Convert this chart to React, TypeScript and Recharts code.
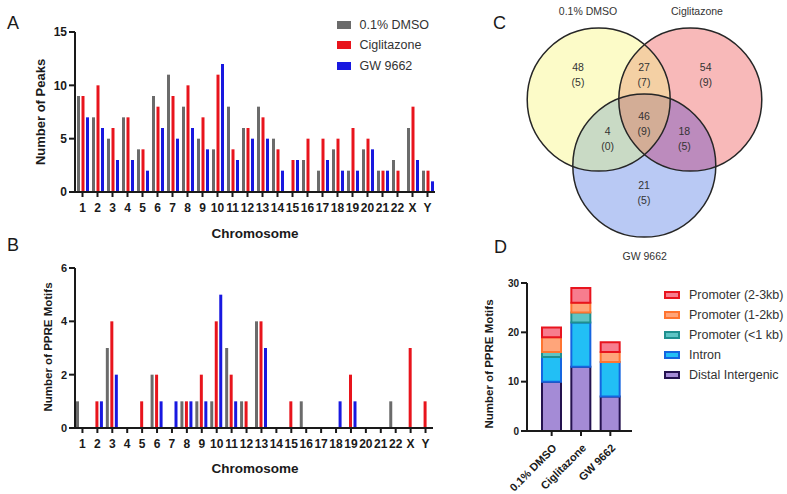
import React from 'react';
import { BarChart, Bar, XAxis, YAxis, Legend, ScatterChart, Scatter } from 'recharts';

const FONT = "'Liberation Sans', Arial, Helvetica, sans-serif";
const INK = '#1a1a1a';

// ---- panel A / B data (per chromosome) ----
const chromosomes = ['1', '2', '3', '4', '5', '6', '7', '8', '9', '10', '11', '12', '13', '14', '15', '16', '17', '18', '19', '20', '21', '22', 'X', 'Y'];
const peaksDmso = [9, 7, 5, 7, 4, 9, 11, 8, 5, 4, 8, 6, 8, 5, 0, 3, 2, 4, 2, 4, 2, 3, 6, 2];
const peaksCig = [9, 10, 6, 7, 4, 8, 9, 10, 7, 11, 4, 6, 7, 4, 3, 5, 5, 5, 6, 5, 2, 2, 8, 2];
const peaksGw = [7, 6, 3, 3, 2, 6, 5, 6, 4, 12, 3, 5, 5, 2, 3, 0, 3, 2, 2, 4, 2, 0, 3, 1];
const motifsDmso = [1, 0, 3, 0, 0, 2, 0, 1, 1, 1, 3, 1, 4, 0, 0, 1, 0, 0, 0, 0, 0, 1, 0, 0];
const motifsCig = [0, 1, 4, 0, 1, 2, 0, 1, 2, 4, 2, 1, 4, 0, 1, 0, 0, 0, 2, 0, 0, 0, 3, 1];
const motifsGw = [0, 1, 2, 0, 0, 1, 1, 1, 1, 5, 1, 0, 3, 0, 0, 0, 0, 1, 1, 0, 0, 0, 0, 0];

const treatments = ['0.1% DMSO', 'Ciglitazone', 'GW 9662'];
const treatmentColors = ['#6b6b6b', '#e8141c', '#1818e0'];

// ---- panel C data (venn) ----
const vennRegions = ['dmso', 'dmso+cig', 'cig', 'all', 'dmso+gw', 'cig+gw', 'gw'];
const vennPeaks = [48, 27, 54, 46, 4, 18, 21];
const vennMotifs = [5, 7, 9, 9, 0, 5, 5];

// ---- panel D data (stacked) ----
const groups = ['0.1% DMSO', 'Ciglitazone', 'GW 9662'];
const distalIntergenic = [10, 13, 7];
const intron = [5, 9, 7];
const promoterLt1 = [1, 2, 0];
const promoter12 = [3, 2, 2];
const promoter23 = [2, 3, 2];

const peakRows = chromosomes.map((c, i) => ({ chr: c, dmso: peaksDmso[i], cig: peaksCig[i], gw: peaksGw[i] }));
const motifRows = chromosomes.map((c, i) => ({ chr: c, dmso: motifsDmso[i], cig: motifsCig[i], gw: motifsGw[i] }));
const stackRows = groups.map((g, i) => ({
  group: g,
  distal: distalIntergenic[i],
  intron: intron[i],
  p1: promoterLt1[i],
  p12: promoter12[i],
  p23: promoter23[i],
}));

const stackSeries = [
  { key: 'distal', name: 'Distal Intergenic', fill: '#a48bd6', stroke: '#24124f' },
  { key: 'intron', name: 'Intron', fill: '#22bff5', stroke: '#1565e0' },
  { key: 'p1', name: 'Promoter (<1 kb)', fill: '#5ec4c4', stroke: '#1f8f8f' },
  { key: 'p12', name: 'Promoter (1-2kb)', fill: '#ffa57a', stroke: '#ff7430' },
  { key: 'p23', name: 'Promoter (2-3kb)', fill: '#f77d8e', stroke: '#e8141e' },
];

// venn layout (chart-local pixels, 1 unit = 1px)
const VW = 347;
const VH = 270;
const R = 71.5;
const circleLayout = [
  { id: 'Y', x: 158.7, y: 99.6, fill: '#fcfbc8' },
  { id: 'P', x: 250.3, y: 99.6, fill: '#f8b9b9' },
  { id: 'B', x: 204.3, y: 165.6, fill: '#b9c9f4' },
];
const overlapLayout = [
  { of: 'P', clips: ['Y'], fill: '#f4d0a4' },
  { of: 'B', clips: ['Y'], fill: '#c9dac5' },
  { of: 'B', clips: ['P'], fill: '#bc8bbd' },
  { of: 'B', clips: ['Y', 'P'], fill: '#d3ad96' },
];
const regionPos = [
  [138, 74], [204, 74], [265.7, 74], [204, 123], [167.7, 138], [244.3, 138], [204, 192],
];

const circleData = circleLayout.map((c) => ({ ...c, r: R }));
const overlapData = overlapLayout.map((o) => {
  const c = circleLayout.find((k) => k.id === o.of)!;
  return { x: c.x, y: c.y, r: R, clips: o.clips, fill: o.fill };
});
const labelData = vennRegions.map((k, i) => ({ region: k, x: regionPos[i][0], y: regionPos[i][1], peaks: vennPeaks[i], motifs: vennMotifs[i] }));

const VennCircle = (props: any) => {
  const { cx, cy, payload } = props;
  return (
    <g>
      <defs>
        <clipPath id={`venn-clip-${payload.id}`}>
          <circle cx={cx} cy={cy} r={payload.r} />
        </clipPath>
      </defs>
      <circle cx={cx} cy={cy} r={payload.r} fill={payload.fill} />
    </g>
  );
};

const VennOverlap = (props: any) => {
  const { cx, cy, payload } = props;
  let el = <circle cx={cx} cy={cy} r={payload.r} fill={payload.fill} />;
  for (const c of payload.clips) el = <g clipPath={`url(#venn-clip-${c})`}>{el}</g>;
  return el;
};

const VennOutline = (props: any) => {
  const { cx, cy, payload } = props;
  return <circle cx={cx} cy={cy} r={payload.r} fill="none" stroke="#262626" strokeWidth={1.5} />;
};

const VennLabel = (props: any) => {
  const { cx, cy, payload } = props;
  return (
    <g fontFamily={FONT} fontSize={10.5} fill="#333" textAnchor="middle">
      <text x={cx} y={cy - 3}>{payload.peaks}</text>
      <text x={cx} y={cy + 12}>({payload.motifs})</text>
    </g>
  );
};

const SlantTick = (props: any) => {
  const { x, y, payload } = props;
  return (
    <g transform={`translate(${x + 3},${y + 8}) rotate(-45)`}>
      <text x={0} y={0} dy="0.35em" textAnchor="end" fontFamily={FONT} fontSize={11} fontWeight={700} fill={INK}>
        {payload.value}
      </text>
    </g>
  );
};

const axisLine = { stroke: INK, strokeWidth: 2 };

const PeaksLegend = () => (
  <div style={{ fontFamily: FONT, fontSize: 12.5, color: '#333' }}>
    {treatments.map((t, i) => (
      <div key={t} style={{ display: 'flex', alignItems: 'center', height: 20.6 }}>
        <span style={{ width: 14, height: 8, background: treatmentColors[i], marginRight: 9, display: 'inline-block' }} />
        <span>{t}</span>
      </div>
    ))}
  </div>
);

const StackLegend = () => (
  <div style={{ fontFamily: FONT, fontSize: 12.5, color: '#333' }}>
    {[...stackSeries].reverse().map((s) => (
      <div key={s.key} style={{ display: 'flex', alignItems: 'center', height: 20, whiteSpace: 'nowrap' }}>
        <span
          style={{ width: 12, height: 4, background: s.fill, border: `2px solid ${s.stroke}`, marginRight: 9, display: 'inline-block' }}
        />
        <span>{s.name}</span>
      </div>
    ))}
  </div>
);

function ChromBars({ data, max, ticks, fontSize, top, right, xHeight, legend }: any) {
  return (
    <BarChart width={450} height={240} data={data} margin={{ top, right, left: 0, bottom: 0 }} barSize={3} barGap={1.5}>
      <XAxis
        dataKey="chr"
        interval={0}
        height={xHeight}
        axisLine={axisLine}
        tickLine={axisLine}
        tickSize={5}
        tickMargin={6}
        tick={{ fill: INK, fontSize: 12, fontWeight: 700, fontFamily: FONT }}
      />
      <YAxis
        width={75}
        domain={[0, max]}
        ticks={ticks}
        interval={0}
        axisLine={axisLine}
        tickLine={axisLine}
        tickSize={6}
        tickMargin={2}
        tick={{ fill: INK, fontSize, fontWeight: 700, fontFamily: FONT }}
      />
      {legend && (
        <Legend
          layout="vertical"
          align="center"
          verticalAlign="middle"
          content={<PeaksLegend />}
          wrapperStyle={{ left: 336.5, top: 14.5, width: 120, height: 62 }}
        />
      )}
      <Bar dataKey="dmso" name={treatments[0]} fill={treatmentColors[0]} isAnimationActive={false} />
      <Bar dataKey="cig" name={treatments[1]} fill={treatmentColors[1]} isAnimationActive={false} />
      <Bar dataKey="gw" name={treatments[2]} fill={treatmentColors[2]} isAnimationActive={false} />
    </BarChart>
  );
}

export default function App() {
  const titleStyle = { fontFamily: FONT, fontWeight: 700, fill: INK } as const;
  return (
    <div style={{ position: 'absolute', left: 0, top: 0, width: 787, height: 494, background: '#fff', overflow: 'hidden' }}>
      <div style={{ position: 'absolute', left: 0, top: 0 }}>
        <ChromBars data={peakRows} max={15} ticks={[0, 5, 10, 15]} fontSize={12} top={32} right={15} xHeight={48} legend />
      </div>
      <div style={{ position: 'absolute', left: 0, top: 240 }}>
        <ChromBars data={motifRows} max={6} ticks={[0, 2, 4, 6]} fontSize={11} top={28} right={17} xHeight={52} />
      </div>

      <div style={{ position: 'absolute', left: 440, top: 0 }}>
        <ScatterChart width={VW} height={VH} margin={{ top: 0, right: 0, bottom: 0, left: 0 }}>
          <XAxis type="number" dataKey="x" domain={[0, VW]} hide allowDataOverflow />
          <YAxis type="number" dataKey="y" domain={[0, VH]} hide reversed allowDataOverflow />
          <Scatter data={circleData} shape={<VennCircle />} isAnimationActive={false} />
          <Scatter data={overlapData} shape={<VennOverlap />} isAnimationActive={false} />
          <Scatter data={circleData} shape={<VennOutline />} isAnimationActive={false} />
          <Scatter data={labelData} shape={<VennLabel />} isAnimationActive={false} />
        </ScatterChart>
      </div>

      <div style={{ position: 'absolute', left: 440, top: 270 }}>
        <BarChart width={347} height={224} data={stackRows} margin={{ top: 13, right: 155, left: 0, bottom: 0 }} barSize={19}>
          <XAxis
            dataKey="group"
            interval={0}
            height={63}
            padding={{ left: 10, right: 7 }}
            axisLine={axisLine}
            tickLine={axisLine}
            tickSize={5}
            tickMargin={2}
            tick={<SlantTick />}
          />
          <YAxis
            width={87}
            domain={[0, 30]}
            ticks={[0, 10, 20, 30]}
            interval={0}
            axisLine={axisLine}
            tickLine={axisLine}
            tickSize={6}
            tickMargin={2}
            tick={{ fill: INK, fontSize: 10, fontWeight: 700, fontFamily: FONT }}
          />
          <Legend
            layout="vertical"
            align="center"
            verticalAlign="middle"
            content={<StackLegend />}
            wrapperStyle={{ left: 224, top: 15.3, width: 123, height: 100 }}
          />
          {stackSeries.map((s) => (
            <Bar key={s.key} dataKey={s.key} name={s.name} stackId="a" fill={s.fill} stroke={s.stroke} strokeWidth={2} isAnimationActive={false} />
          ))}
        </BarChart>
      </div>

      <svg width={787} height={494} style={{ position: 'absolute', left: 0, top: 0, pointerEvents: 'none' }}>
        <g fontFamily={FONT} fontSize={18} fill={INK}>
          <text x={7} y={29}>A</text>
          <text x={7} y={251}>B</text>
          <text x={493} y={29}>C</text>
          <text x={494} y={253}>D</text>
        </g>
        <text {...titleStyle} fontSize={13} textAnchor="middle" transform="translate(45,112) rotate(-90)">Number of Peaks</text>
        <text {...titleStyle} fontSize={13.5} textAnchor="middle" x={255} y={238}>Chromosome</text>
        <text {...titleStyle} fontSize={11.5} textAnchor="middle" transform="translate(52,347) rotate(-90)">Number of PPRE Motifs</text>
        <text {...titleStyle} fontSize={13.5} textAnchor="middle" x={255} y={473}>Chromosome</text>
        <text {...titleStyle} fontSize={11.5} textAnchor="middle" transform="translate(493,364) rotate(-90)">Number of PPRE Motifs</text>
        <g fontFamily={FONT} fontSize={10.5} fill="#333" textAnchor="middle">
          <text x={588} y={15}>{treatments[0]}</text>
          <text x={697} y={15}>{treatments[1]}</text>
          <text x={644.7} y={260}>{treatments[2]}</text>
        </g>
      </svg>
    </div>
  );
}
